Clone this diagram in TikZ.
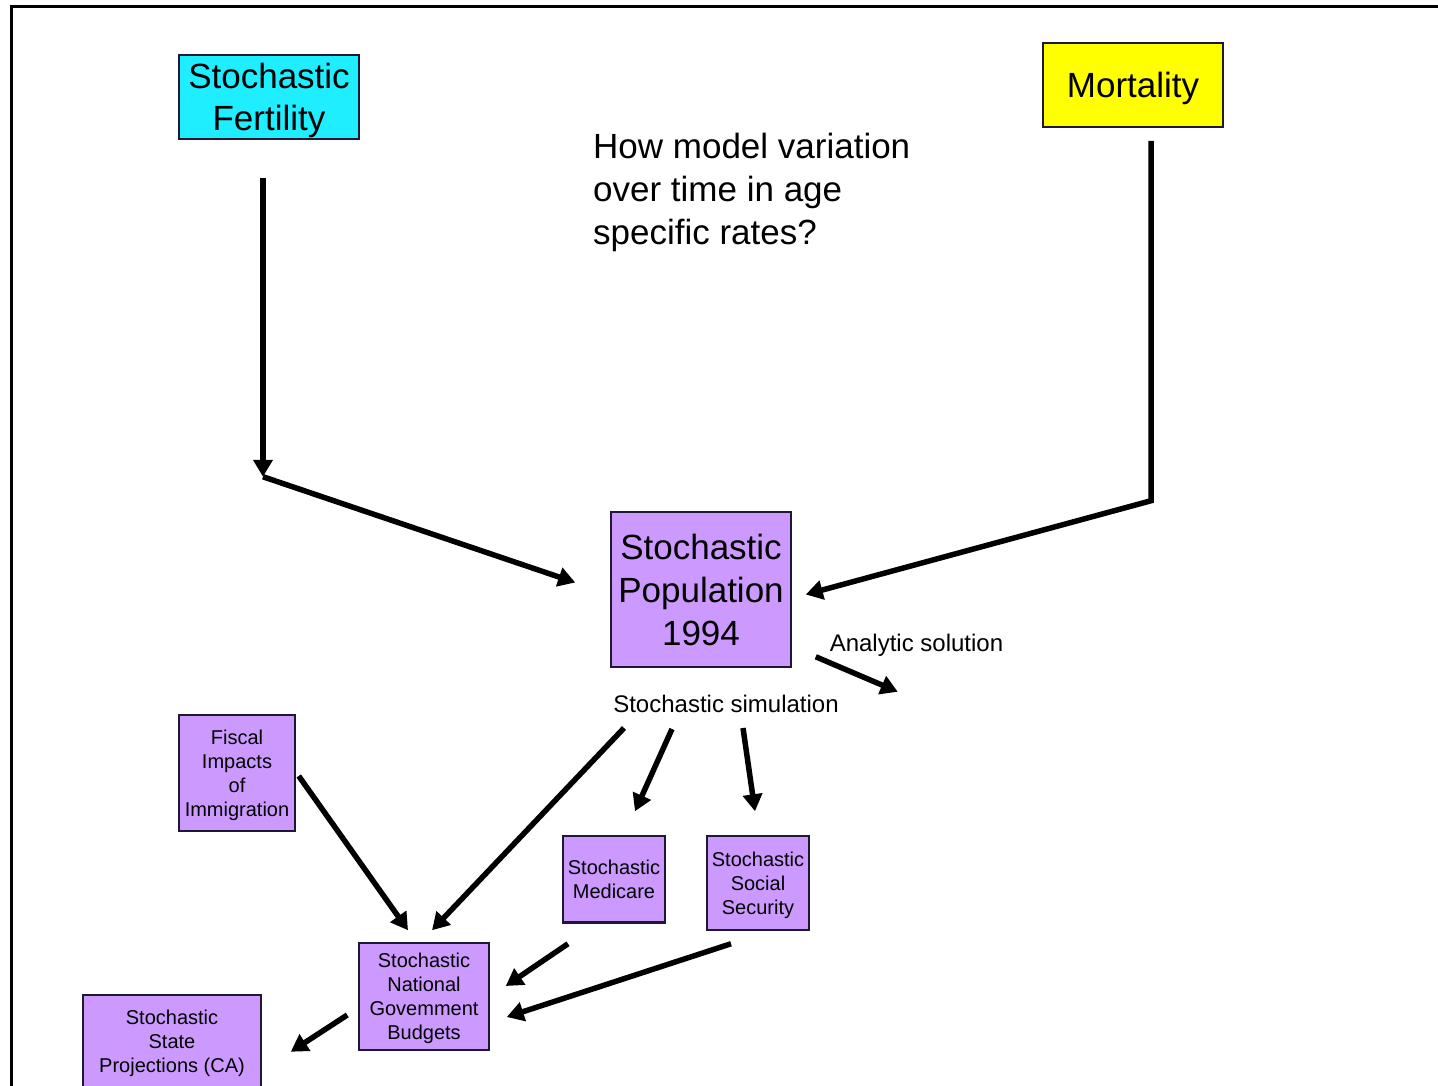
\documentclass[tikz,border=0pt]{standalone}
\usepackage{fontspec}
\setmainfont{Liberation Sans}
\usetikzlibrary{arrows.meta,calc}
\definecolor{fertcyan}{RGB}{30,238,255}
\definecolor{mortyellow}{RGB}{255,255,0}
\definecolor{lav}{RGB}{204,153,255}
\definecolor{boxline}{RGB}{30,25,50}
\begin{document}
\begin{tikzpicture}[x=1pt,y=-1pt,
  box/.style={draw=boxline, line width=1.5pt, inner sep=0pt, align=center, text=black, text depth=0pt},
  bigfont/.style={font=\fontsize{35}{42.5}\selectfont},
  smallfont/.style={font=\fontsize{20}{24}\selectfont},
  labelfont/.style={font=\fontsize{24}{29}\selectfont, text depth=0pt},
  arr/.style={line width=5.5pt, line join=miter, -{Triangle[length=17pt,width=19pt]}},
  frameline/.style={line width=3pt}]
\useasboundingbox (0,0) rectangle (1438,1085);
\clip (0,0) rectangle (1438,1085);
% frame
\coordinate (fr1) at (1438,6.5);
\coordinate (fr2) at (11.5,6.5);
\coordinate (fr3) at (11.5,1090);
\draw[frameline] (fr1) -- (fr2) -- (fr3);
% nodes
\node[box, fill=fertcyan, bigfont, minimum width=180pt, minimum height=84pt] (fert) at (269,97) {Stochastic\\Fertility};
\node[box, fill=mortyellow, bigfont, minimum width=180pt, minimum height=84pt] (mort) at (1133,85) {Mortality};
\node[anchor=west, inner sep=0pt, align=left, text depth=0pt, font=\fontsize{35}{43}\selectfont] (quest) at (593,189) {How model variation\\over time in age\\specific rates?};
\node[box, fill=lav, font=\fontsize{35}{43}\selectfont, minimum width=180pt, minimum height=155pt] (pop) at (701,589.5) {Stochastic\\Population\\1994};
\node[labelfont, inner sep=0pt] (anal) at (916.5,643) {Analytic solution};
\node[labelfont, inner sep=0pt] (sim) at (726,704) {Stochastic simulation};
\node[box, fill=lav, smallfont, minimum width=116pt, minimum height=116pt] (fisc) at (237,773) {Fiscal\\Impacts\\of\\Immigration};
\node[box, fill=lav, smallfont, minimum width=102pt, minimum height=86pt] (medi) at (614,879) {Stochastic\\Medicare};
\node[box, fill=lav, smallfont, minimum width=102pt, minimum height=94pt] (ssec) at (758,883) {Stochastic\\Social\\Security};
\node[box, fill=lav, smallfont, minimum width=130pt, minimum height=107pt] (natl) at (424,996.5) {Stochastic\\National\\Govemment\\Budgets};
\node[box, fill=lav, smallfont, minimum width=178pt, minimum height=93pt, anchor=north] (state) at (172,994) {Stochastic\\State\\Projections (CA)};
\draw[line width=3pt, boxline] (medi.south west) -- (medi.south east);
% connectors
\coordinate (fb) at ($(fert.south)+(-6,337)$);
\draw[arr] ($(fert.south)+(-6,38)$) -- (fb);
\draw[arr] (fb) -- ($(pop.west)+(-35,-7)$);
\coordinate (mb) at ($(mort.south)+(18,373)$);
\draw[arr] ($(mort.south)+(18,13)$) -- (mb) -- ($(pop.east)+(14,5)$);
\draw[arr] ($(pop.south east)+(24,-11)$) -- ($(pop.south east)+(106,24)$);
\draw[arr] ($(sim)+(-102,24)$) -- ($(natl.north)+(8,-12)$);
\draw[arr] ($(sim)+(-54,25)$) -- ($(medi.north)+(21,-24)$);
\draw[arr] ($(sim)+(17,24)$) -- ($(ssec.north)+(-3,-24)$);
\draw[arr] ($(fisc.east)+(3,3)$) -- ($(natl.north)+(-16,-12)$);
\draw[arr] ($(medi.south)+(-46,21)$) -- ($(natl.east)+(16,-10.5)$);
\draw[arr] ($(ssec.south)+(-27,13)$) -- ($(natl.east)+(17,20.5)$);
\draw[arr] ($(natl.west)+(-11,18.5)$) -- ($(state.east)+(29,10.5)$);
\end{tikzpicture}
\end{document}
